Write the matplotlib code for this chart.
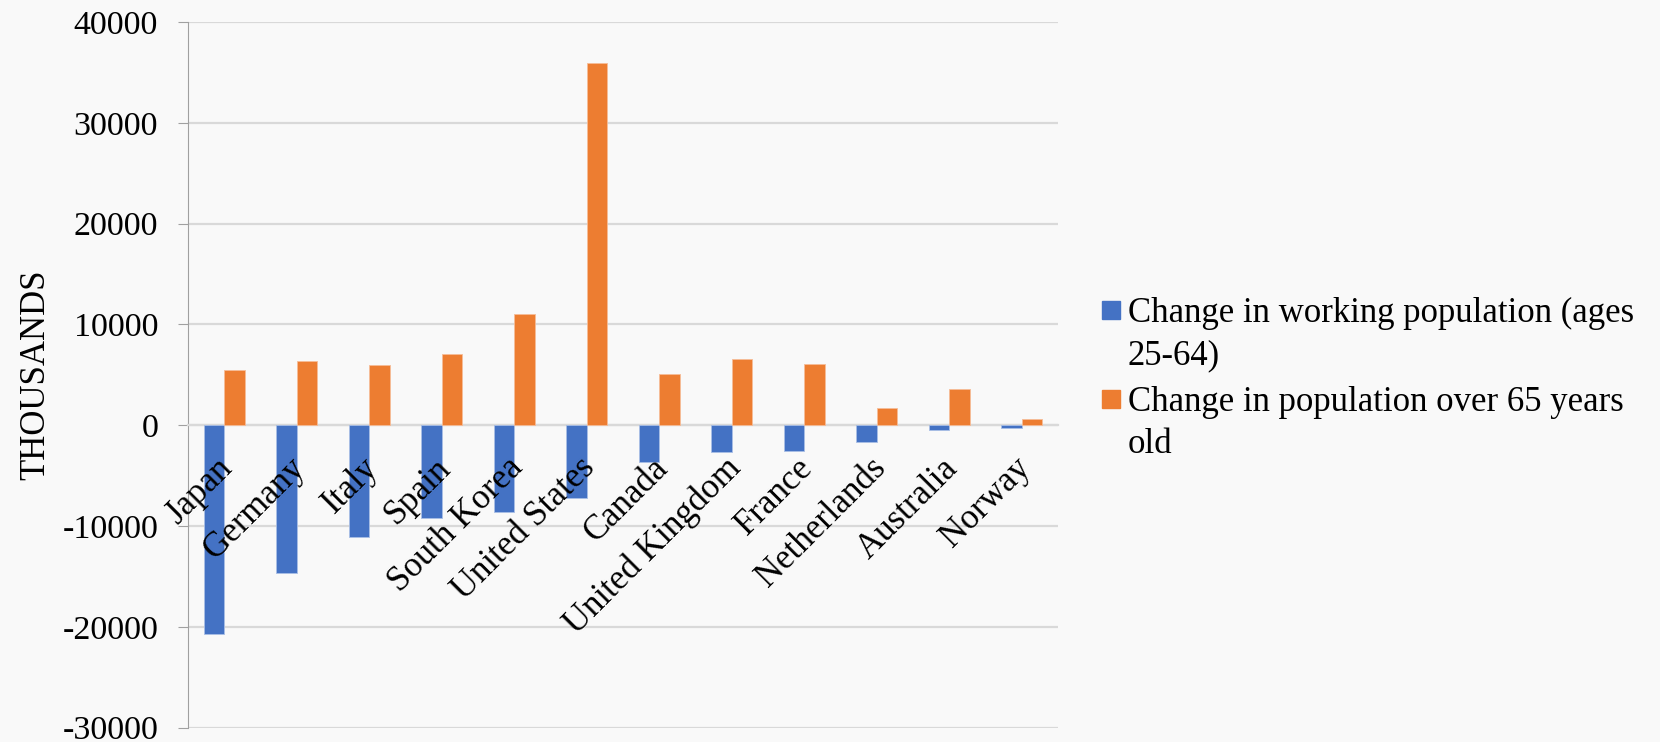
import numpy as np
import matplotlib.pyplot as plt
from matplotlib.patches import Rectangle
from matplotlib.transforms import ScaledTranslation

countries = ["Japan", "Germany", "Italy", "Spain", "South Korea", "United States",
             "Canada", "United Kingdom", "France", "Netherlands", "Australia", "Norway"]
working_change = [-20670, -14650, -11080, -9160, -8630, -7170,
                  -3640, -2650, -2550, -1620, -500, -260]
over65_change = [5450, 6380, 5990, 7110, 11010, 35940,
                 5120, 6580, 6080, 1690, 3600, 630]
series_names = ["Change in working population (ages\n25-64)",
                "Change in population over 65 years\nold"]
series_colors = ["#4472C4", "#ED7D31"]
yticks = [-30000, -20000, -10000, 0, 10000, 20000, 30000, 40000]

plt.rcParams['font.family'] = ['Liberation Serif', 'DejaVu Serif']

bg = "#f9f9f9"
fig = plt.figure(figsize=(16.6, 7.42), dpi=100, facecolor=bg)
ax = fig.add_axes([0.1133, 0.0193, 0.5241, 0.9511], facecolor=bg)

x = np.arange(len(countries))
w = 0.285
ax.bar(x - w / 2, working_change, w, color=series_colors[0], edgecolor="#a9bfe6",
       linewidth=0.6, zorder=3)
ax.bar(x + w / 2, over65_change, w, color=series_colors[1], edgecolor="#f6bd98",
       linewidth=0.6, zorder=3)

ax.set_xlim(-0.5, len(countries) - 0.5)
ax.set_ylim(-30000, 40000)
ax.set_yticks(yticks)
ax.set_yticklabels([str(v) for v in yticks], fontsize=24.5)
ax.yaxis.grid(True, color="#d9d9d9", linewidth=1.6, zorder=0)

# category labels sit next to the zero line, drawn over the bars
ax.spines['bottom'].set_position(('data', 0))
ax.spines['bottom'].set_color("#d9d9d9")
ax.spines['bottom'].set_linewidth(1.6)
ax.spines['top'].set_visible(False)
ax.spines['right'].set_visible(False)
ax.spines['left'].set_color("#a0a0a0")
ax.set_xticks(x)
ax.set_xticklabels(countries, fontsize=25, rotation=45, ha='right',
                   rotation_mode='anchor')
ax.xaxis.set_zorder(5)
ax.tick_params(axis='x', length=0, pad=19)
ax.tick_params(axis='y', length=7.5, color="#a0a0a0", pad=14)
# nudge labels left a little (after tick_params, which resets transforms)
shift = ScaledTranslation(-0.08, 0, fig.dpi_scale_trans)
for lab in ax.get_xticklabels():
    lab.set_transform(lab.get_transform() + shift)

ax.set_ylabel("THOUSANDS", fontsize=25, labelpad=7)

# legend: square aligned with the first line of each wrapped label
legend_tops = [0.5997, 0.4798]
for name, col, top in zip(series_names, series_colors, legend_tops):
    fig.text(0.6793, top, name, fontsize=25, va='top', ha='left', linespacing=1.35)
    fig.patches.append(Rectangle((0.6640, top - 0.0290), 0.01066, 0.0238,
                                 transform=fig.transFigure, color=col))

fig.savefig("out.png", dpi=100, facecolor=bg)
